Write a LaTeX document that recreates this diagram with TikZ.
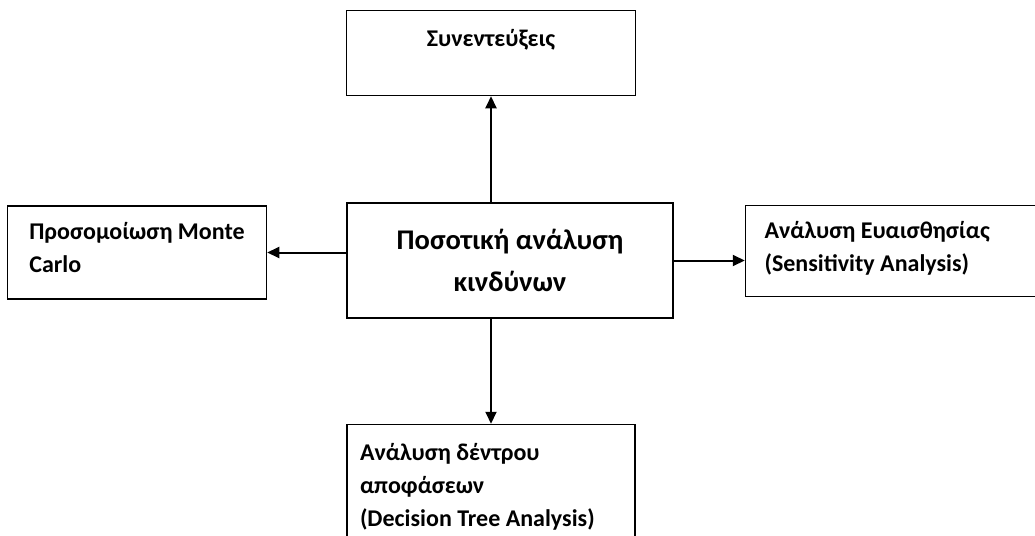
\documentclass[tikz,border=0pt]{standalone}
\usepackage{fontspec}
\setmainfont{Carlito}
\usetikzlibrary{positioning,arrows.meta}

\begin{document}
\begin{tikzpicture}[x=1pt,y=-1pt,
    box/.style={draw, line width=1.5pt, font=\bfseries\fontsize{24}{33}\selectfont},
    arr/.style={-{Triangle[length=12pt,width=11pt]}, line width=2pt}
]
    \useasboundingbox (0,0) rectangle (1035,535);

    \node[box, minimum width=326pt, minimum height=115pt, align=center, font=\bfseries\fontsize{28.5}{42}\selectfont] (risk) at (510,260.5) {Ποσοτική ανάλυση\\κινδύνων};

    \node[box, minimum width=289pt, minimum height=85pt, text depth=31pt, align=center, above=106pt of risk.north, xshift=-19pt] (interv) {Συνεντεύξεις};
    \node[box, minimum width=259pt, minimum height=93pt, align=left, left=79pt of risk.west, yshift=8pt] (monte) {Προσομοίωση Monte\\Carlo\\[-23pt]\mbox{}};
    \node[box, text width=400pt, inner xsep=19pt, minimum height=91pt, align=flush left, right=71pt of risk.east, yshift=9.5pt] (sens) {Ανάλυση Ευαισθησίας\\(Sensitivity Analysis)\\[-23pt]\mbox{}};
    \node[box, text width=262pt, inner xsep=13pt, minimum height=124pt, align=flush left, below=105pt of risk.south, xshift=-19pt] (tree) {Ανάλυση δέντρου\\αποφάσεων\\(Decision Tree Analysis)};

    % arrows from the centre box
    \draw[arr] (interv.south |- risk.north) -- (interv.south);
    \draw[arr] (tree.north |- risk.south) -- (tree.north);
    \draw[arr] (risk.west |- monte.east) -- (monte.east);
    \draw[arr] (risk.east) -- (risk.east -| sens.west);
\end{tikzpicture}
\end{document}
